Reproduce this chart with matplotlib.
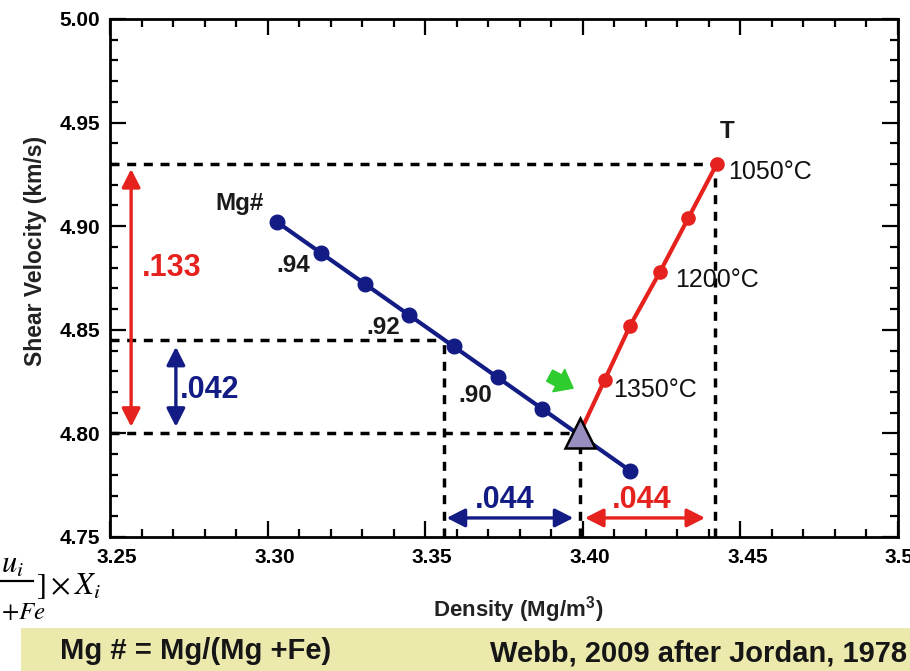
import matplotlib
matplotlib.use("Agg")
import matplotlib.pyplot as plt
import matplotlib.transforms as mtransforms
from matplotlib.patches import Rectangle, FancyArrowPatch
from matplotlib.lines import Line2D
from matplotlib.ticker import MultipleLocator

plt.rcParams['font.family'] = ['Liberation Sans', 'DejaVu Sans']
plt.rcParams['mathtext.fontset'] = 'stix'

# Mg# trend (blue), density vs shear velocity
mg_density = [3.303, 3.317, 3.331, 3.345, 3.359, 3.373, 3.387, 3.415]
mg_vs = [4.902, 4.887, 4.872, 4.857, 4.842, 4.827, 4.812, 4.782]
mg_labels = ['.94', '.92', '.90']

# temperature trend (red), starts at the reference point
t_density = [3.399, 3.407, 3.415, 3.4245, 3.4335, 3.4425]
t_vs = [4.800, 4.826, 4.852, 4.878, 4.904, 4.930]
t_labels = ['1050°C', '1200°C', '1350°C']

ref_density = 3.399
ref_vs = 4.800

# guide values
vs_levels = [4.930, 4.845, 4.800]
dens_levels = [3.356, 3.399, 3.442]
dvs_T = '.133'
dvs_mg = '.042'
drho = '.044'

x_ticks = [3.25, 3.30, 3.35, 3.40, 3.45, 3.50]
y_ticks = [4.75, 4.80, 4.85, 4.90, 4.95, 5.00]

BLUE = '#121c84'
RED = '#e5221e'
W, H = 910, 671

fig = plt.figure(figsize=(W / 100, H / 100), dpi=100)
fig.patch.set_facecolor('white')
ax = fig.add_axes([110 / W, 1 - 537 / H, 788 / W, 518 / H])

ax.set_xlim(3.25, 3.50)
ax.set_ylim(4.75, 5.00)
tick_font = dict(fontsize=15, fontweight='bold', color='#222222')
ax.set_xticks(x_ticks, ['%.2f' % v for v in x_ticks], **tick_font)
ax.set_yticks(y_ticks, ['%.2f' % v for v in y_ticks], **tick_font)
ax.xaxis.set_minor_locator(MultipleLocator(0.01))
ax.yaxis.set_minor_locator(MultipleLocator(0.01))
ax.tick_params(which='both', direction='in', top=True, right=True, width=1.6, colors='black')
ax.tick_params(which='major', length=11.5)
ax.tick_params(which='minor', length=6)
ax.tick_params(axis='x', pad=8)
ax.tick_params(axis='y', pad=7)
off = mtransforms.ScaledTranslation(7 / 100, 0, fig.dpi_scale_trans)
for lab in ax.get_xticklabels():
    lab.set_transform(lab.get_transform() + off)
for s in ax.spines.values():
    s.set_linewidth(2.0)

ax.set_xlabel('Density (Mg/m$^\\mathregular{3}$)', fontsize=16, fontweight='bold', color='#222222')
ax.xaxis.set_label_coords((518 - 110) / 788, -(610 - 537) / 518)
ax.xaxis.label.set_va('center')
ax.set_ylabel('Shear Velocity (km/s)', fontsize=16.5, fontweight='bold', color='#222222')
ax.yaxis.set_label_coords(-(110 - 36) / 788, (537 - 251) / 518)
ax.yaxis.label.set_va('center')

# dashed guide lines
dash = dict(color='black', lw=2.5, dashes=(2.6, 2.2), zorder=2)
ax.plot([3.25, dens_levels[2]], [vs_levels[0]] * 2, **dash)
ax.plot([3.25, dens_levels[0]], [vs_levels[1]] * 2, **dash)
ax.plot([3.25, dens_levels[1]], [vs_levels[2]] * 2, **dash)
ax.plot([dens_levels[0]] * 2, [4.75, vs_levels[1]], **dash)
ax.plot([dens_levels[1]] * 2, [4.75, vs_levels[2]], **dash)
ax.plot([dens_levels[2]] * 2, [4.75, vs_levels[0]], **dash)

# data lines
ax.plot(mg_density, mg_vs, '-o', color=BLUE, lw=3, ms=10.5, zorder=4)
ax.plot(t_density, t_vs, '-', color=RED, lw=3, zorder=4)
ax.plot(t_density[1:], t_vs[1:], 'o', color=RED, ms=9.5, zorder=5)
ax.plot([ref_density], [ref_vs], marker='^', ms=21, mfc='#9a8ec0', mec='black', mew=1.8, zorder=6)

# arrows
def darrow(p0, p1, c):
    ax.annotate('', xy=p1, xytext=p0,
                arrowprops=dict(arrowstyle='<|-|>,head_length=0.55,head_width=0.28',
                                color=c, lw=2.4, mutation_scale=20, shrinkA=0, shrinkB=0),
                zorder=3)

darrow((3.2567, 4.8032), (3.2567, 4.9276), RED)
darrow((3.2709, 4.8032), (3.2709, 4.8418), BLUE)
darrow((3.3568, 4.7592), (3.3970, 4.7592), BLUE)
darrow((3.4007, 4.7592), (3.4388, 4.7592), RED)

big = dict(fontsize=22, fontweight='bold', ha='center', va='center')
ax.text(3.2696, 4.880, dvs_T, color=RED, **big)
ax.text(3.2817, 4.821, dvs_mg, color=BLUE, **big)
ax.text(3.3753, 4.768, drho, color=BLUE, **big)
ax.text(3.4187, 4.768, drho, color=RED, **big)

# series labels
lab_kw = dict(fontsize=17.5, fontweight='bold', color='#1a1a1a', ha='center', va='center')
ax.text(3.2912, 4.911, 'Mg#', **lab_kw)
ax.text(3.3080, 4.881, mg_labels[0], **lab_kw)
ax.text(3.3366, 4.851, mg_labels[1], **lab_kw)
ax.text(3.3658, 4.8185, mg_labels[2], **lab_kw)
tk = dict(fontsize=18, color='#111111', ha='left', va='center')
ax.text(3.4457, 4.9455, 'T', fontsize=17.5, fontweight='bold', color='#1a1a1a', ha='center', va='center')
ax.text(3.4460, 4.926, t_labels[0], **tk)
ax.text(3.4293, 4.874, t_labels[1], **tk)
ax.text(3.4096, 4.821, t_labels[2], **tk)

# green pointer
ax.add_patch(FancyArrowPatch((3.3887, 4.8285), (3.3977, 4.8212),
                             arrowstyle='simple,head_length=0.9,head_width=1.4,tail_width=0.7',
                             mutation_scale=13, color='#2ecc2e', zorder=5))

# slide decorations around the chart
fig.patches.append(Rectangle((21 / W, 0), 1, (671 - 628) / H, transform=fig.transFigure,
                             facecolor='#ece9ad', edgecolor='none', zorder=0))
fig.text(60 / W, 1 - 651 / H, 'Mg # = Mg/(Mg +Fe)', fontsize=21, fontweight='bold',
         color='#161616', ha='left', va='center')
fig.text(907 / W, 1 - 653 / H, 'Webb, 2009 after Jordan, 1978', fontsize=21, fontweight='bold',
         color='#161616', ha='right', va='center')
fig.text(1 / W, 1 - 573 / H, '$u_i$', fontsize=22, color='black', ha='left', va='baseline')
fig.lines.append(Line2D([0, 33 / W], [1 - 581 / H] * 2, transform=fig.transFigure, color='black', lw=1.6))
fig.text(36 / W, 1 - 594 / H, '$]\\times X_i$', fontsize=22, color='black', ha='left', va='baseline')
fig.text(1 / W, 1 - 619 / H, '$+Fe$', fontsize=18, color='black', ha='left', va='baseline')

fig.savefig('out.png', dpi=100)
